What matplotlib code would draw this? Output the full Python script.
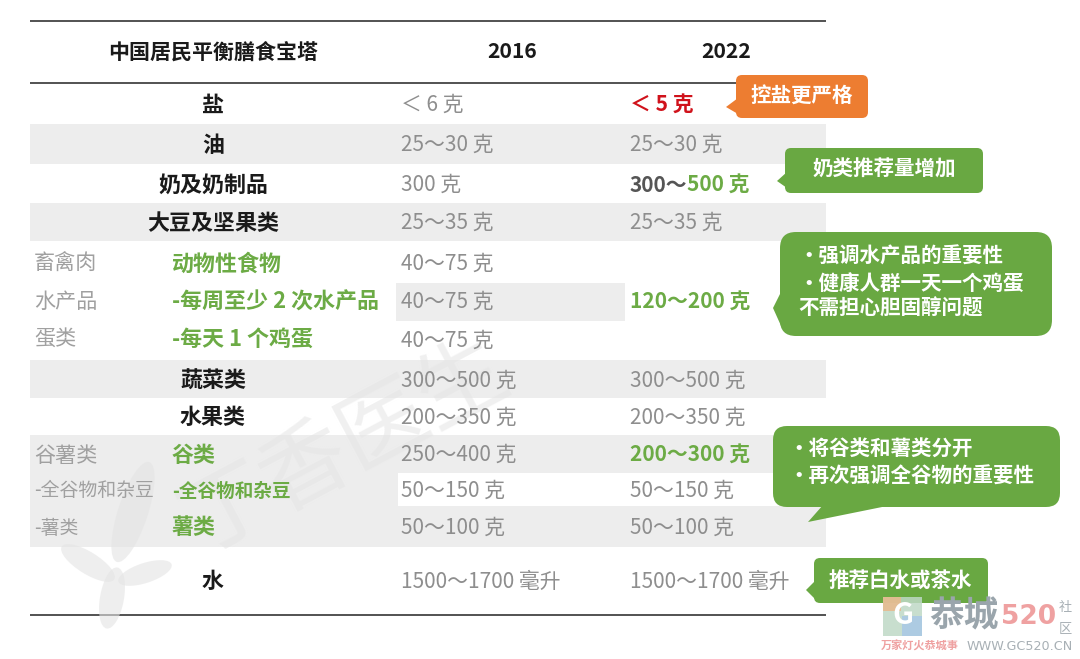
import matplotlib
matplotlib.use("Agg")
import matplotlib.pyplot as plt
from matplotlib.patches import FancyBboxPatch, Polygon, Rectangle, Ellipse

plt.rcParams['font.family'] = ['Noto Sans CJK SC', 'DejaVu Sans']

# ---- content ----
title = "中国居民平衡膳食宝塔"
years = ["2016", "2022"]
main_foods = ["盐", "油", "奶及奶制品", "大豆及坚果类", "蔬菜类", "水果类", "水"]
group_left = ["畜禽肉", "水产品", "蛋类", "谷薯类", "-全谷物和杂豆", "-薯类"]
group_green = ["动物性食物", "-每周至少 2 次水产品", "-每天 1 个鸡蛋", "谷类", "-全谷物和杂豆", "薯类"]
vals_2016 = ["＜ 6 克", "25～30 克", "300 克", "25～35 克", "40～75 克", "40～75 克", "40～75 克",
             "300～500 克", "200～350 克", "250～400 克", "50～150 克", "50～100 克", "1500～1700 毫升"]
vals_2022 = ["＜ 5 克", "25～30 克", "300～", "25～35 克", "120～200 克",
             "300～500 克", "200～350 克", "200～300 克", "50～150 克", "50～100 克", "1500～1700 毫升"]
milk_new = "500 克"
notes = ["控盐更严格", "奶类推荐量增加", "・强调水产品的重要性\n・健康人群一天一个鸡蛋\n不需担心胆固醇问题",
         "・将谷类和薯类分开\n・再次强调全谷物的重要性", "推荐白水或茶水"]

# ---- layout ----
GRAY_BG = "#EDEDED"; TXT = "#8E8E8E"; GREEN = "#6CAB45"; DARK = "#1A1A1A"; BOX = "#69A842"
fig = plt.figure(figsize=(10.8, 6.59), dpi=100)
ax = fig.add_axes([0, 0, 1, 1])
ax.set_xlim(0, 1080); ax.set_ylim(659, 0); ax.axis("off")

def band(x0, x1, y0, y1, c=GRAY_BG, z=1):
    ax.add_patch(Rectangle((x0, y0), x1 - x0, y1 - y0, fc=c, ec="none", zorder=z))

for y0, y1 in [(124, 164), (203, 241), (360, 398), (435, 547)]:
    band(30, 826, y0, y1)
band(396, 625, 283, 321)
band(398, 826, 473, 506, "white", 2)

for y in (20.5, 83, 615):
    ax.plot([30, 826], [y, y], color="#444444", lw=1.3, zorder=3, solid_capstyle="butt")

def T(x, y, s, size=15, c=TXT, ha="left", w="normal", **k):
    return ax.text(x, y + 2, s, fontsize=size, color=c, ha=ha, va="center", fontweight=w, zorder=5, **k)

# watermark
wm = "#E4E4E4"
ax.text(345, 447, "丁香医生", fontsize=64, color=wm, rotation=28, ha="center", va="center", zorder=4, alpha=0.55)
for cx, cy, wd, ht, ang in [(133, 512, 30, 105, 18), (88, 563, 62, 22, 32), (145, 573, 56, 20, -18), (112, 598, 24, 62, 10)]:
    ax.add_patch(Ellipse((cx, cy), wd, ht, angle=ang, fc=wm, ec="none", alpha=0.6, zorder=4))

# header
T(213, 50, title, 15.1, DARK, "center", "bold")
T(512, 50, years[0], 15.2, DARK, "center", "bold")
T(726, 50, years[1], 15.2, DARK, "center", "bold")

# main food labels
main_y = [103, 143, 183, 221, 379, 416, 580]
for s, y in zip(main_foods, main_y):
    T(213, y, s, 15.8, DARK, "center", "bold")

# grouped labels
group_y = [262, 300, 337, 454, 489, 526]
left_sz = [15.2, 15.2, 15.2, 15.2, 13.6, 13.6]
green_sz = [15.8, 15.8, 15.8, 15.8, 13.4, 15.8]
for s, g, y, ls, gs in zip(group_left, group_green, group_y, left_sz, green_sz):
    T(34, y, s, ls, "#A0A0A0")
    T(172, y, g, gs, GREEN, w="bold")

# 2016 column
y2016 = [103, 143, 183, 221, 262, 300, 339, 379, 416, 453, 489, 526, 580]
for s, y in zip(vals_2016, y2016):
    T(401, y, s, 15, TXT)

# 2022 column
y2022 = [103, 143, 183, 221, 300, 379, 416, 453, 489, 526, 580]
c2022 = ["#D0121B", TXT, "#555555", TXT, GREEN, TXT, TXT, GREEN, TXT, TXT, TXT]
w2022 = ["bold", "normal", "bold", "normal", "bold", "normal", "normal", "bold", "normal", "normal", "normal"]
for s, y, c, w in zip(vals_2022, y2022, c2022, w2022):
    T(630, y, s, 15, c, w=w)
T(687, 183, milk_new, 15, GREEN, w="bold")

# callouts
def callout(x0, y0, x1, y1, tail, color, r=8):
    ax.add_patch(FancyBboxPatch((x0 + r, y0 + r), x1 - x0 - 2 * r, y1 - y0 - 2 * r,
                                boxstyle=f"round,pad={r},rounding_size={r}", fc=color, ec="none", zorder=6))
    ax.add_patch(Polygon(tail, closed=True, fc=color, ec="none", zorder=6))

callout(736, 75, 868, 118, [(738, 98), (726, 107), (738, 114)], "#ED7D31", 6)
callout(785, 148, 983, 193, [(787, 172), (777, 181), (787, 188)], BOX, 6)
callout(780, 232, 1052, 336, [(782, 290), (773, 308), (782, 328)], BOX, 16)
callout(773, 426, 1060, 507, [(823, 505), (808, 522), (892, 505)], BOX, 14)
callout(814, 558, 988, 603, [(816, 580), (806, 590), (816, 600)], BOX, 6)

def N(x, y, s, size=14.8, ha="left"):
    ax.text(x, y, s, fontsize=size, color="white", ha=ha, va="center", zorder=7, fontweight="bold")

N(802, 96, notes[0], ha="center")
N(884, 169, notes[1], ha="center")
lines_fish = notes[2].split("\n")
for x, y, s in zip((798, 798, 798), (256, 283, 308), lines_fish):
    N(x, y, s)
lines_grain = notes[3].split("\n")
for x, y, s in zip((788, 788), (449, 476), lines_grain):
    N(x, y, s)
N(900, 580, notes[4], ha="center")

# site mark, bottom right
ax.add_patch(Rectangle((883, 597), 39, 39, fc="#BFD9C6", ec="none", alpha=0.85, zorder=8))
ax.add_patch(Rectangle((883, 597), 18, 14, fc="#E9B98C", ec="none", alpha=0.85, zorder=8))
ax.add_patch(Rectangle((902, 616), 20, 20, fc="#A9C8E6", ec="none", alpha=0.85, zorder=8))
ax.text(902.5, 615, "G", fontsize=21, color="white", ha="center", va="center", zorder=9, fontweight="bold")
ax.text(964, 616, "恭城", fontsize=25, color="#9AA5AC", ha="center", va="center", zorder=9, fontweight="bold")
ax.text(1029, 617, "520", fontsize=19, color="#EFA1A1", ha="center", va="center", zorder=9, fontweight="bold",
        family="DejaVu Sans")
ax.text(1059, 607, "社", fontsize=9.5, color="#A8B0B5", ha="left", va="center", zorder=9)
ax.text(1059, 630, "区", fontsize=9.5, color="#A8B0B5", ha="left", va="center", zorder=9)
ax.text(881, 646, "万家灯火恭城事", fontsize=8.0, color="#EFA1A1", ha="left", va="center", zorder=9, fontweight="bold")
ax.text(967, 646, "WWW.GC520.CN", fontsize=9.2, color="#A8B0B5", ha="left", va="center", zorder=9, family="DejaVu Sans")

fig.savefig("out.png", dpi=100, facecolor="white")
